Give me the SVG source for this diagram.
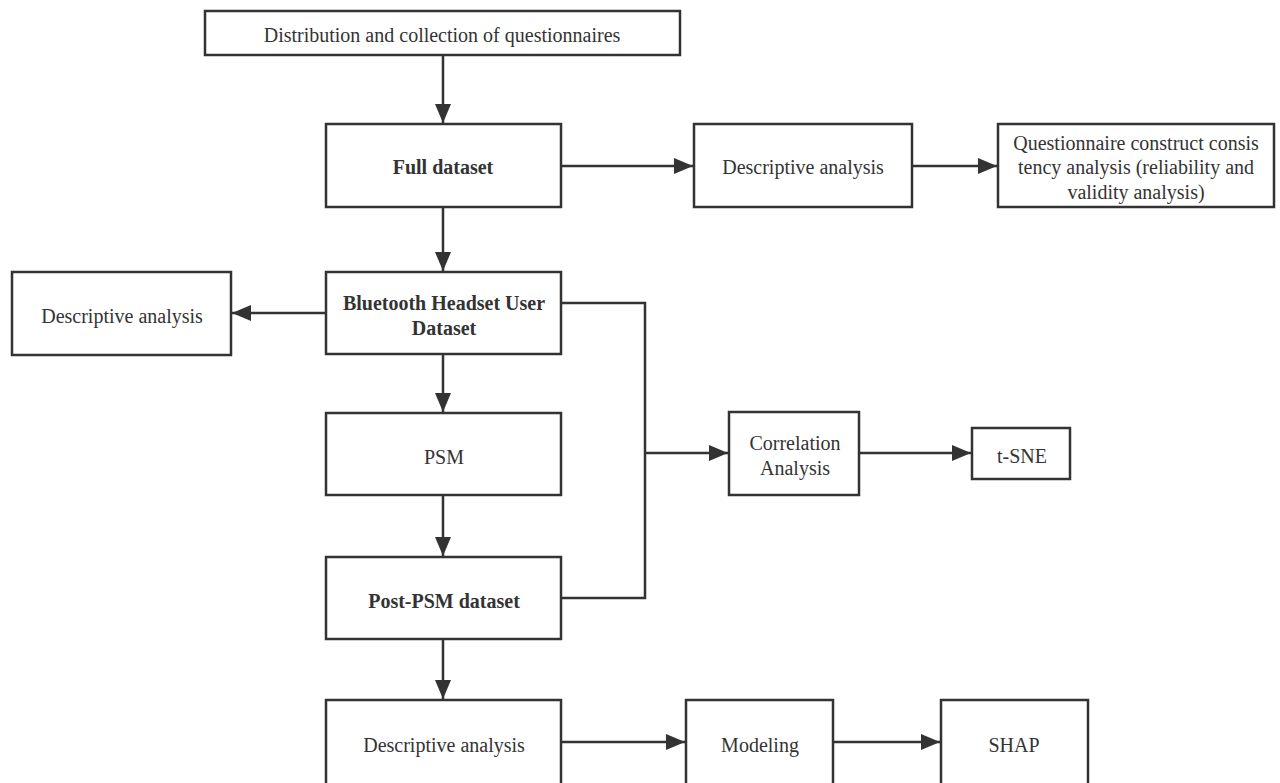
<svg xmlns="http://www.w3.org/2000/svg" width="1280" height="783" viewBox="0 0 1280 783">
<style>
.box{fill:#fff;stroke:#333;stroke-width:2.5}
.t{font-family:"Liberation Serif","Times New Roman",serif;font-size:20px;fill:#333;text-anchor:middle;dominant-baseline:central}
.b{font-weight:bold}
.c{fill:none;stroke:#333;stroke-width:2.5}
</style>
<defs>
<marker id="arr" markerUnits="userSpaceOnUse" markerWidth="22" markerHeight="18" refX="19" refY="8" orient="auto">
<path d="M0,0 L19,8 L0,16 z" fill="#333"/>
</marker>
</defs>
<rect width="1280" height="783" fill="#fff"/>
<g id="connectors">
<path class="c" d="M443,55 V123" marker-end="url(#arr)"/>
<path class="c" d="M561,166 H693" marker-end="url(#arr)"/>
<path class="c" d="M912,166 H997" marker-end="url(#arr)"/>
<path class="c" d="M443,207 V271" marker-end="url(#arr)"/>
<path class="c" d="M326,313 H232" marker-end="url(#arr)"/>
<path class="c" d="M443,354 V412" marker-end="url(#arr)"/>
<path class="c" d="M443,495 V556" marker-end="url(#arr)"/>
<path class="c" d="M443,639 V699" marker-end="url(#arr)"/>
<path class="c" d="M561,303 H645 V598 H561"/>
<path class="c" d="M645,453 H728" marker-end="url(#arr)"/>
<path class="c" d="M859,453 H971" marker-end="url(#arr)"/>
<path class="c" d="M561,742 H685" marker-end="url(#arr)"/>
<path class="c" d="M833,742 H940" marker-end="url(#arr)"/>
</g>
<g id="n-dist"><rect class="box" x="205" y="11" width="475" height="44"/><text class="t" x="442" y="35">Distribution and collection of questionnaires</text></g>
<g id="n-full"><rect class="box" x="326" y="124" width="235" height="83"/><text class="t b" x="443" y="167">Full dataset</text></g>
<g id="n-desc1"><rect class="box" x="694" y="124" width="218" height="83"/><text class="t" x="803" y="167">Descriptive analysis</text></g>
<g id="n-quest"><rect class="box" x="998" y="124" width="276" height="83"/><text class="t" x="1136" y="143">Questionnaire construct consis</text><text class="t" x="1136" y="167">tency analysis (reliability and</text><text class="t" x="1136" y="192">validity analysis)</text></g>
<g id="n-bt"><rect class="box" x="326" y="272" width="235" height="82"/><text class="t b" x="444" y="303">Bluetooth Headset User</text><text class="t b" x="444" y="328">Dataset</text></g>
<g id="n-desc2"><rect class="box" x="12" y="272" width="219" height="83"/><text class="t" x="122" y="316">Descriptive analysis</text></g>
<g id="n-psm"><rect class="box" x="326" y="413" width="235" height="82"/><text class="t" x="444" y="457">PSM</text></g>
<g id="n-post"><rect class="box" x="326" y="557" width="235" height="82"/><text class="t b" x="444" y="601">Post-PSM dataset</text></g>
<g id="n-corr"><rect class="box" x="729" y="412" width="130" height="83"/><text class="t" x="795" y="443">Correlation</text><text class="t" x="795" y="468">Analysis</text></g>
<g id="n-tsne"><rect class="box" x="972" y="428" width="98" height="51"/><text class="t" x="1022" y="456">t-SNE</text></g>
<g id="n-desc3"><rect class="box" x="326" y="700" width="235" height="95"/><text class="t" x="444" y="745">Descriptive analysis</text></g>
<g id="n-model"><rect class="box" x="686" y="700" width="147" height="95"/><text class="t" x="760" y="745">Modeling</text></g>
<g id="n-shap"><rect class="box" x="941" y="700" width="147" height="95"/><text class="t" x="1014" y="745">SHAP</text></g>
</svg>
